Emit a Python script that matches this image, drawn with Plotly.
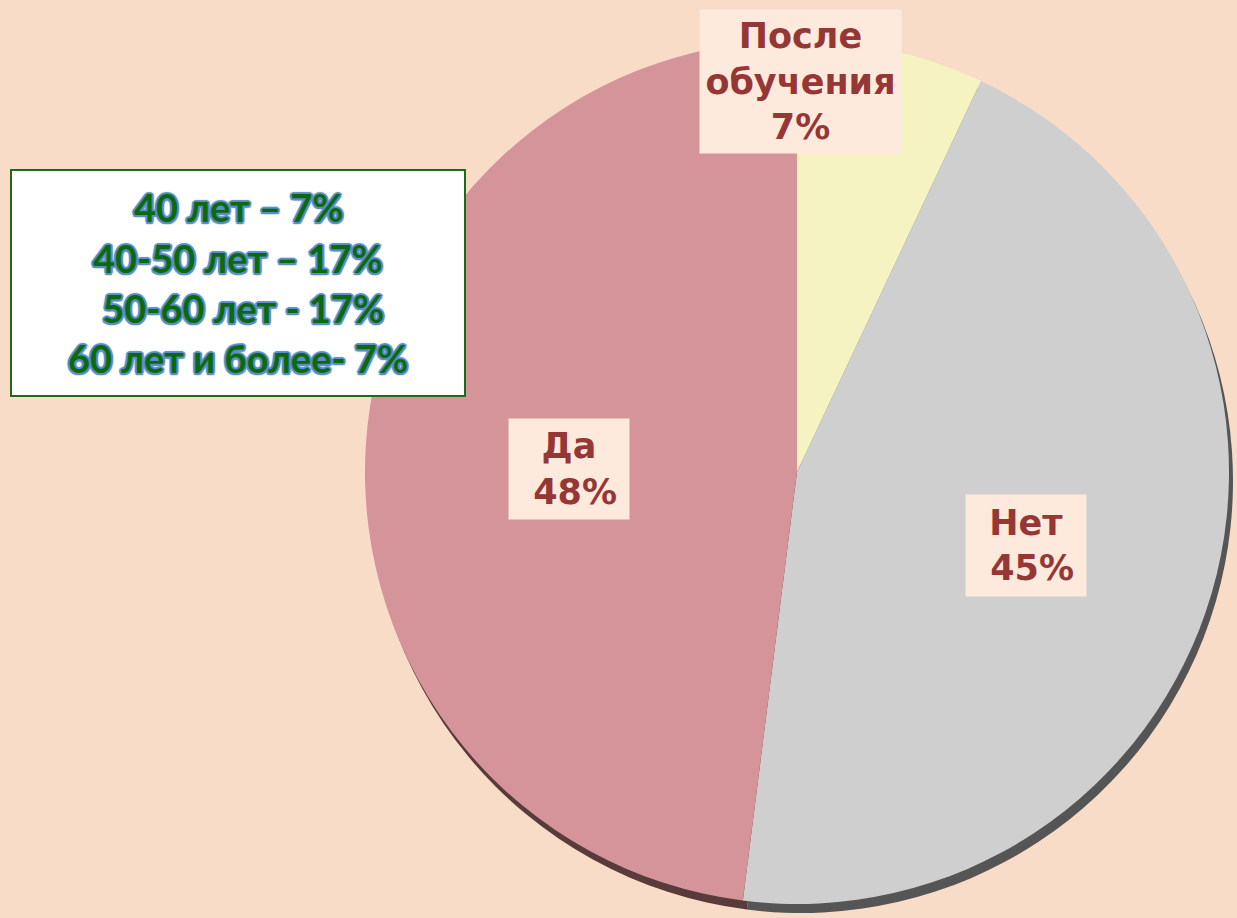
import plotly.graph_objects as go

# Data
labels = ["После обучения", "Нет", "Да"]
values = [7, 45, 48]
colors = ["#F5F3C2", "#CFCFCF", "#D4949A"]
rim_colors = ["#8A8660", "#555555", "#5A3B3B"]
label_texts = ["После<br>обучения<br>7%", "Нет<br> 45%", "Да<br> 48%"]

age_lines = ["40 лет – 7%", "40-50 лет – 17%", " 50-60 лет - 17%", "60 лет и более- 7%"]

W, H = 1237, 918
cx, cy, r = 797, 472, 432


def px_x(x):
    return x / W


def px_y(y):
    return 1 - y / H


fig = go.Figure()

# rim / shadow pie (3D edge)
fig.add_trace(go.Pie(
    labels=labels, values=values, sort=False, direction="clockwise", rotation=0,
    marker=dict(colors=rim_colors, line=dict(width=0)),
    textinfo="none", hoverinfo="skip", showlegend=False,
    domain=dict(x=[px_x(cx + 4 - r), px_x(cx + 4 + r)], y=[px_y(cy + 9 + r), px_y(cy + 9 - r)]),
))

# main pie
fig.add_trace(go.Pie(
    labels=labels, values=values, sort=False, direction="clockwise", rotation=0,
    marker=dict(colors=colors, line=dict(width=0)),
    textinfo="none", showlegend=False,
    domain=dict(x=[px_x(cx - r), px_x(cx + r)], y=[px_y(cy + r), px_y(cy - r)]),
))

label_font = dict(family="DejaVu Sans", size=35, color="#953735", weight="bold")
label_pos = [(800, 82, 195, 137), (1026, 545, 114, 95), (569, 469, 114, 94)]
annotations = []
for txt, (x, y, w, h) in zip(label_texts, label_pos):
    annotations.append(dict(
        x=px_x(x), y=px_y(y), xref="paper", yref="paper", text=txt, showarrow=False,
        font=label_font, bgcolor="#FDEADD", width=w, height=h, borderpad=3,
        align="center", valign="middle", xanchor="center", yanchor="middle",
    ))

sh = "#5B8CC8"
age_font = dict(family="Lato", size=38, color="#0B6A0E", weight="bold",
                shadow=(f"1.5px 1.5px 1px {sh}, -1.5px -1.5px 1px {sh}, 1.5px -1.5px 1px {sh}, "
                        f"-1.5px 1.5px 1px {sh}, 0 2px 1px {sh}, 0 -2px 1px {sh}, 2px 0 1px {sh}, -2px 0 1px {sh}"))
age_y = [207, 258, 308, 358]
for txt, y in zip(age_lines, age_y):
    annotations.append(dict(
        x=px_x(238), y=px_y(y), xref="paper", yref="paper", text=txt, showarrow=False,
        font=age_font, xanchor="center", yanchor="middle",
    ))

fig.add_shape(type="rect", xref="paper", yref="paper",
              x0=px_x(11), x1=px_x(465), y0=px_y(396), y1=px_y(170),
              fillcolor="white", line=dict(color="#1A6B1A", width=2), layer="above")

fig.update_layout(
    width=W, height=H,
    margin=dict(l=0, r=0, t=0, b=0),
    paper_bgcolor="#F9DCC8",
    plot_bgcolor="#F9DCC8",
    annotations=annotations,
)

fig.write_html("out.html", config={"displayModeBar": False},
               post_script="document.body.style.margin='0';document.body.style.background='#F9DCC8';")
